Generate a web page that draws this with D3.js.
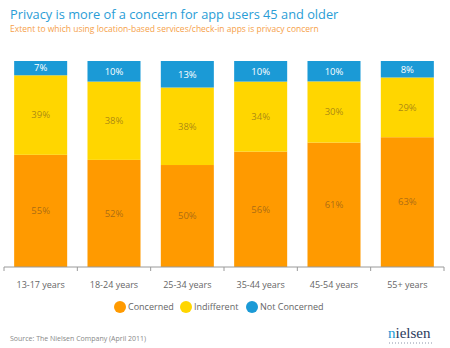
<!DOCTYPE html>
<html>
<head>
<meta charset="utf-8">
<script src="https://cdn.jsdelivr.net/npm/d3@7"></script>
<style>
  body { margin: 0; background: #fff; }
  svg text { font-family: "Open Sans", sans-serif; }
</style>
</head>
<body>
<svg id="chart" width="450" height="348"></svg>
<script>
// données
const groupes = ["13-17 years", "18-24 years", "25-34 years", "35-44 years", "45-54 years", "55+ years"];
const concerned = [55, 52, 50, 56, 61, 63];
const indifferent = [39, 38, 38, 34, 30, 29];
const notConcerned = [7, 10, 13, 10, 10, 8];
const series = ["Concerned", "Indifferent", "Not Concerned"];
const couleurs = ["#ff9a00", "#ffd600", "#1b9ad6"];

const svg = d3.select("#chart");

const margin = { top: 61, left: 4, right: 6, bottom: 81 },
    width = 450 - margin.left - margin.right,
    height = 348 - margin.top - margin.bottom;

const g = svg.append("g")
    .attr("transform", `translate(${margin.left},${margin.top})`);

// tableau pour d3.stack, normalisé à 100 %
const rows = groupes.map((d, i) => ({
    groupe: d,
    Concerned: concerned[i],
    Indifferent: indifferent[i],
    "Not Concerned": notConcerned[i]
}));

const stack = d3.stack().keys(series).offset(d3.stackOffsetExpand);
const layers = stack(rows);

const x = d3.scaleBand()
    .domain(groupes)
    .range([0, width])
    .paddingInner(0.277)
    .paddingOuter(0.1385);

const y = d3.scaleLinear()
    .domain([0, 1])
    .range([height, 0]);

const color = d3.scaleOrdinal().domain(series).range(couleurs);

// barres
const layer = g.selectAll(".layer")
    .data(layers)
    .enter()
    .append("g")
    .attr("class", "layer")
    .attr("fill", d => color(d.key));

layer.selectAll("rect")
    .data(d => d)
    .enter()
    .append("rect")
    .attr("x", d => x(d.data.groupe))
    .attr("y", d => y(d[1]))
    .attr("width", x.bandwidth())
    .attr("height", d => y(d[0]) - y(d[1]));

// étiquettes des valeurs
layers.forEach(l => {
    g.selectAll(".lab-" + l.index)
        .data(l)
        .enter()
        .append("text")
        .attr("x", d => x(d.data.groupe) + x.bandwidth() / 2)
        .attr("y", d => (y(d[0]) + y(d[1])) / 2)
        .attr("dy", "0.35em")
        .attr("text-anchor", "middle")
        .style("font-size", "9.5px")
        .style("fill", l.key === "Not Concerned" ? "#ffffff" : "rgba(95,70,35,0.55)")
        .text(d => d.data[l.key] + "%");
});

// axe x
const axe = g.append("g")
    .attr("transform", `translate(0,${height})`);

axe.append("line")
    .attr("x1", 0)
    .attr("x2", width)
    .attr("stroke", "#9a9a9a");

const bornes = groupes.map(d => x(d) - x.step() * x.paddingInner() / 2);
bornes.push(width);
axe.selectAll(".tick")
    .data(bornes)
    .enter()
    .append("line")
    .attr("x1", d => d)
    .attr("x2", d => d)
    .attr("y1", 0)
    .attr("y2", 4)
    .attr("stroke", "#9a9a9a");

axe.selectAll(".xlab")
    .data(groupes)
    .enter()
    .append("text")
    .attr("x", d => x(d) + x.bandwidth() / 2)
    .attr("y", 21)
    .attr("text-anchor", "middle")
    .style("font-size", "9px")
    .style("fill", "#666")
    .text(d => d);

// titres
svg.append("text")
    .attr("x", 10)
    .attr("y", 19)
    .style("font-size", "12.8px")
    .style("fill", "#2a9dd6")
    .text("Privacy is more of a concern for app users 45 and older");

svg.append("text")
    .attr("x", 10)
    .attr("y", 32)
    .style("font-size", "8.5px")
    .style("fill", "#f6a14a")
    .text("Extent to which using location-based services/check-in apps is privacy concern");

// légende
const legendX = [120, 186, 252];
const leg = svg.selectAll(".leg")
    .data(series)
    .enter()
    .append("g")
    .attr("transform", (d, i) => `translate(${legendX[i]},307)`);

leg.append("circle")
    .attr("r", 6)
    .style("fill", d => color(d));

leg.append("text")
    .attr("x", 8)
    .attr("dy", "0.35em")
    .style("font-size", "9px")
    .style("fill", "#666")
    .text(d => d);

// source et logo
svg.append("text")
    .attr("x", 10)
    .attr("y", 341)
    .style("font-size", "7px")
    .style("fill", "#888")
    .text("Source: The Nielsen Company (April 2011)");

const logo = svg.append("text")
    .attr("x", 388)
    .attr("y", 338)
    .style("font-family", "'Liberation Serif', serif")
    .style("font-size", "15px")
    .style("fill", "#2b3a5c");
logo.append("tspan").style("fill", "#1b9ad6").text("n");
logo.append("tspan").text("ielsen");

svg.append("line")
    .attr("x1", 389)
    .attr("x2", 432)
    .attr("y1", 343)
    .attr("y2", 343)
    .attr("stroke", "#8a93a8")
    .attr("stroke-width", 1)
    .attr("stroke-dasharray", "1,2");
</script>
</body>
</html>
